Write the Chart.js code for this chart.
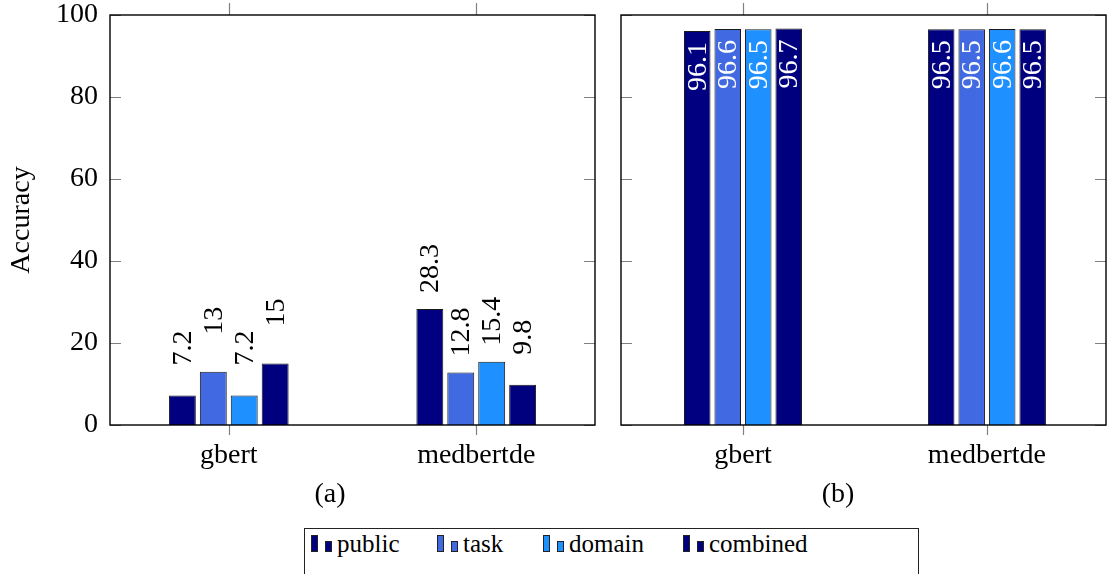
<!DOCTYPE html>
<html>
<head>
<meta charset="utf-8">
<script src="https://cdn.jsdelivr.net/npm/chart.js@4"></script>
<style>
  body { margin: 0; background: #fff; width: 1109px; height: 574px; overflow: hidden; position: relative; font-family: "Liberation Serif", serif; }
  .panel { position: absolute; top: 0; }
  .caption { position: absolute; font-size: 28px; line-height: 28px; transform: translateX(-50%); }
  #legend { position: absolute; left: 304px; top: 528px; width: 613px; height: 60px; border: 1px solid #222; }
  .sw { position: absolute; border: 1px solid #222; box-sizing: border-box; }
  .lab { position: absolute; top: 2px; font-size: 25px; line-height: 25px; white-space: nowrap; }
</style>
</head>
<body>
<div class="panel" style="left:0"><canvas id="chartA" width="600" height="520"></canvas></div>
<div class="panel" style="left:600px"><canvas id="chartB" width="509" height="520"></canvas></div>
<div class="caption" style="left:330px; top:479px">(a)</div>
<div class="caption" style="left:838px; top:479px">(b)</div>
<div id="legend"></div>
<script>
// Categories and series
const categories = ['gbert', 'medbertde'];
const seriesNames = ['public', 'task', 'domain', 'combined'];
const seriesColors = ['#000080', '#4169E1', '#1E90FF', '#00007F'];

// Panel (a) values, one array per series
const aPublic = [7.2, 28.3];
const aTask = [13, 12.8];
const aDomain = [7.2, 15.4];
const aCombined = [15, 9.8];

// Panel (b) values
const bPublic = [96.1, 96.5];
const bTask = [96.6, 96.5];
const bDomain = [96.5, 96.6];
const bCombined = [96.7, 96.5];

const yTicks = [0, 20, 40, 60, 80, 100];

const fontFamily = '"Liberation Serif", serif';
const tickFont = { family: fontFamily, size: 28 };

// rotated value labels
const barLabels = {
    id: 'barLabels',
    afterDatasetsDraw(chart, args, opts) {
        const ctx = chart.ctx;
        ctx.save();
        ctx.font = opts.size + 'px ' + fontFamily;
        ctx.fillStyle = opts.color;
        ctx.textAlign = 'right';
        ctx.textBaseline = 'middle';
        chart.data.datasets.forEach((ds, i) => {
            chart.getDatasetMeta(i).data.forEach((bar, j) => {
                ctx.save();
                ctx.translate(bar.x + 1, bar.y + opts.offset);
                ctx.rotate(-Math.PI / 2);
                ctx.fillText(String(ds.data[j]), 0, 0);
                ctx.restore();
            });
        });
        ctx.restore();
    }
};

// axis box with inner y ticks and outer x ticks
const frame = {
    id: 'frame',
    afterDraw(chart) {
        const ctx = chart.ctx;
        const a = chart.chartArea;
        const x = chart.scales.x, y = chart.scales.y;
        ctx.save();
        ctx.strokeStyle = '#808080';
        ctx.lineWidth = 1.2;
        ctx.beginPath();
        yTicks.forEach(v => {
            const py = Math.round(y.getPixelForValue(v)) + 0.5;
            ctx.moveTo(a.left, py); ctx.lineTo(a.left + 11, py);
            ctx.moveTo(a.right - 11, py); ctx.lineTo(a.right, py);
        });
        categories.forEach((c, i) => {
            const px = Math.round(x.getPixelForValue(i)) + 0.5;
            ctx.moveTo(px, a.top - 12); ctx.lineTo(px, a.top);
            ctx.moveTo(px, a.bottom); ctx.lineTo(px, a.bottom + 10);
        });
        ctx.stroke();
        ctx.strokeStyle = '#000';
        ctx.lineWidth = 1.4;
        ctx.strokeRect(a.left, a.top, a.right - a.left, a.bottom - a.top);
        ctx.restore();
    }
};

function makeDatasets(values) {
    return seriesNames.map((name, i) => ({
        label: name,
        data: values[i],
        backgroundColor: seriesColors[i],
        borderColor: '#1a1a1a',
        borderWidth: 1,
        categoryPercentage: 0.5,
        barPercentage: 0.87
    }));
}

function makeConfig(values, showY, padding, xRange, labelOpts) {
    return {
        type: 'bar',
        data: { labels: categories.map((c, i) => i), datasets: makeDatasets(values) },
        options: {
            responsive: false,
            animation: false,
            layout: { padding: padding },
            plugins: {
                legend: { display: false },
                tooltip: { enabled: false },
                barLabels: labelOpts
            },
            scales: {
                x: {
                    type: 'linear',
                    offset: false,
                    min: xRange[0],
                    max: xRange[1],
                    afterBuildTicks(s) { s.ticks = categories.map((c, i) => ({ value: i })); },
                    grid: { display: false, drawTicks: false },
                    border: { display: false },
                    ticks: {
                        font: tickFont, color: '#000', padding: 14,
                        callback: v => categories[v]
                    },
                    afterFit(s) { s.height = 95; s.paddingLeft = 0; s.paddingRight = 0; }
                },
                y: {
                    min: 0,
                    max: 100,
                    afterBuildTicks(s) { s.ticks = yTicks.map(v => ({ value: v })); },
                    grid: { display: false, drawTicks: false },
                    border: { display: false },
                    ticks: { display: showY, font: tickFont, color: '#000', padding: 12 },
                    title: {
                        display: showY,
                        text: 'Accuracy',
                        font: tickFont,
                        color: '#000',
                        padding: { top: 5 }
                    },
                    afterFit(s) { s.width = showY ? 110 : 0; s.paddingTop = 0; s.paddingBottom = 0; }
                }
            }
        },
        plugins: [barLabels, frame]
    };
}

new Chart(document.getElementById('chartA'),
    makeConfig([aPublic, aTask, aDomain, aCombined], true,
        { top: 15, right: 5, left: 0, bottom: 0 },
        [-0.48, 1.48],
        { size: 28, color: '#000', offset: -65 }));

new Chart(document.getElementById('chartB'),
    makeConfig([bPublic, bTask, bDomain, bCombined], false,
        { top: 15, right: 3, left: 21, bottom: 0 },
        [-0.5, 1.488],
        { size: 28, color: '#fff', offset: 11 }));

// legend: two little bars per entry, as in the reference
const legendPos = [311, 437, 543, 683];
const legend = document.getElementById('legend');
seriesNames.forEach((name, i) => {
    const x0 = legendPos[i] - 305;
    legend.insertAdjacentHTML('beforeend',
        '<div class="sw" style="left:' + x0 + 'px;top:6px;width:7px;height:17px;background:' + seriesColors[i] + '"></div>' +
        '<div class="sw" style="left:' + (x0 + 14) + 'px;top:12px;width:7px;height:11px;background:' + seriesColors[i] + '"></div>' +
        '<div class="lab" style="left:' + (x0 + 26) + 'px">' + name + '</div>');
});
</script>
</body>
</html>
